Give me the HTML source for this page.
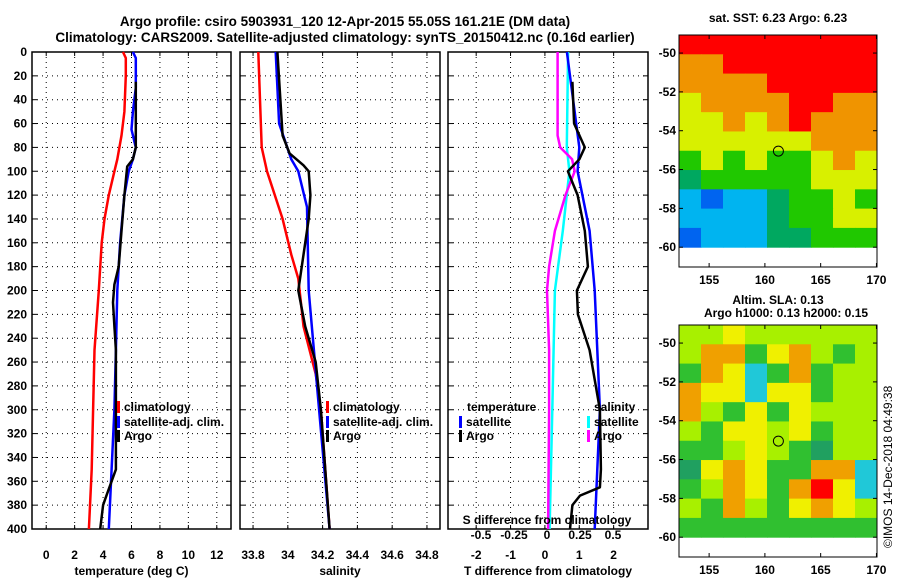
<!DOCTYPE html>
<html><head><meta charset="utf-8"><style>
body{margin:0;background:#fff;}
svg{display:block;font-family:"Liberation Sans",sans-serif;font-weight:bold;}
text{font-size:12px;fill:#000;}
</style></head><body>
<svg id="s" width="900" height="580">
<text x="345" y="26" text-anchor="middle" style="font-size:13.5px">Argo profile: csiro 5903931_120 12-Apr-2015 55.05S 161.21E (DM data)</text>
<text x="345" y="42" text-anchor="middle" style="font-size:13.5px">Climatology: CARS2009. Satellite-adjusted climatology: synTS_20150412.nc (0.16d earlier)</text>
</svg>
<script>
const depthTick=[0,20,40,60,80,100,120,140,160,180,200,220,240,260,280,300,320,340,360,380,400];
const tTicks=[0,2,4,6,8,10,12];
const sTicks=[33.8,34,34.2,34.4,34.6,34.8];
const dTicks=[-2,-1,0,1,2];
const sdTicks=[-0.5,-0.25,0,0.25,0.5];
const sdLabels=["-0.5","-0.25","0","0.25","0.5"];
// temperature
const tClimZ=[0,5,20,50,70,90,100,120,140,160,200,250,300,350,400];
const tClim=[5.4,5.6,5.6,5.5,5.3,5.0,4.8,4.4,4.1,3.9,3.7,3.4,3.3,3.2,3.0];
const tSatZ=[0,5,30,50,65,80,90,100,120,160,200,250,300,350,400];
const tSat=[6.1,6.3,6.3,6.1,6.0,6.3,6.1,5.8,5.5,5.2,5.0,4.9,4.8,4.6,4.4];
const tArgoZ=[25,80,90,96,120,150,180,195,210,230,250,290,350,370,380,400];
const tArgo=[6.3,6.3,6.1,5.7,5.5,5.3,5.1,4.8,4.7,4.8,4.9,4.9,4.9,4.3,4.0,3.8];
// salinity
const sClimZ=[0,80,100,140,170,190,230,270,300,400];
const sClim=[33.83,33.85,33.88,33.97,34.02,34.06,34.09,34.16,34.19,34.24];
const sSatZ=[0,60,90,100,130,200,250,300,400];
const sSat=[33.93,33.95,34.02,34.06,34.11,34.12,34.15,34.18,34.24];
const sArgoZ=[0,70,85,95,100,120,140,170,200,230,260,300,400];
const sArgo=[33.94,33.97,34.01,34.09,34.12,34.13,34.12,34.09,34.06,34.1,34.16,34.19,34.24];
// differences
const dtSatZ=[0,80,100,150,200,300,400];
const dtSat=[0.64,1.0,0.95,1.3,1.45,1.6,1.45];
const dtArgoZ=[25,60,80,90,100,120,150,180,200,220,250,300,350,365,372,380,400];
const dtArgo=[0.8,0.85,1.16,1.0,0.67,0.95,1.16,1.25,0.93,0.96,1.3,1.6,1.63,1.6,1.02,0.8,0.73];
const dsSatZ=[0,80,100,150,200,300,400];
const dsSat=[0.16,0.15,0.17,0.12,0.06,0.04,0.02];
const dsArgoZ=[0,70,80,90,100,120,150,180,200,250,300,400];
const dsArgo=[0.08,0.08,0.1,0.19,0.21,0.14,0.06,0.016,0.0,0.016,0.016,0.008];
// maps (rows lat -49..-60, cols lon ~152.3..170)
const sstGrid=["RRRRRRRRR","OORRRRRRR","OOOORRRRR","YOOOORROO","YYOYOROOO","YYYYYYOOO","GYGYGGYOY","TGGGGGYYY","CBCCTGGYG","CCCCTGGYY","BCCCTTGGG"];
const slaGrid=["LLYLLLLLL","LOOGYOLGL","GOYCGOGLL","OYYCYYGLL","OLGYGYLLL","LGYYLYGLL","GGLYLGTLL","TYOYGGOOC","GLOYGORYC","LGOLGYOYL","GGGGGGGGG"];
const sstCol={R:"#ff0000",O:"#f09400",Y:"#d8f000",G:"#20c800",T:"#00a860",C:"#00b4f0",B:"#0064f0"};
const slaCol={L:"#a8f000",G:"#30c030",Y:"#f0f000",O:"#f0a000",R:"#ff0000",C:"#20c8d8",T:"#20a060"};

const NS="http://www.w3.org/2000/svg";
const svg=document.getElementById('s');
function el(tag,attrs,parent){const e=document.createElementNS(NS,tag);for(const k in attrs)e.setAttribute(k,attrs[k]);(parent||svg).appendChild(e);return e;}
const Y0=52,Y1=529;
const yD=d=>Y0+(d/400)*(Y1-Y0);
function panel(name,x0,x1,xmin,xmax,ticks,labels,xlabel){
  const g=el('g',{});
  
  
  const xs=v=>x0+(v-xmin)/(xmax-xmin)*(x1-x0);
  ticks.forEach((t,i)=>{
    const X=xs(t);
    const l=el('line',{x1:X,x2:X,y1:Y0,y2:Y1,stroke:'#000','stroke-dasharray':'1,4','stroke-width':1},g);
    
    el('line',{x1:X,x2:X,y1:Y1,y2:Y1-4,stroke:'#000'},g);
    el('line',{x1:X,x2:X,y1:Y0,y2:Y0+4,stroke:'#000'},g);
    const tx=el('text',{x:X,y:559,'text-anchor':'middle'},g);tx.textContent=labels?labels[i]:t;
    
  });
  depthTick.forEach(d=>{
    const Y=yD(d);
    el('line',{x1:x0,x2:x1,y1:Y,y2:Y,stroke:'#000','stroke-dasharray':'1,4'},g);
    el('line',{x1:x0,x2:x0+5,y1:Y,y2:Y,stroke:'#000'},g);
    el('line',{x1:x1,x2:x1-5,y1:Y,y2:Y,stroke:'#000'},g);
  });
  el('rect',{x:x0,y:Y0,width:x1-x0,height:Y1-Y0,fill:'none',stroke:'#000','stroke-width':1.5},g);
  const xl=el('text',{x:(x0+x1)/2,y:575,'text-anchor':'middle'},g);xl.textContent=xlabel;
  
  return xs;
}
function series(name,xs,zs,vs,color,w){
  let p='';zs.forEach((z,i)=>{p+=(i?'L':'M')+xs(vs[i]).toFixed(1)+','+yD(z).toFixed(1);});
  const e=el('path',{d:p,fill:'none',stroke:color,'stroke-width':w||2.5,'stroke-linejoin':'round'});
  
}
function leg(name,x,y,color,label){
  const g=el('g',{});
  el('rect',{x:x,y:y-10,width:3,height:12,fill:color},g);
  const t=el('text',{x:x+7,y:y},g);t.textContent=label;
}
depthTick.forEach(d=>{const t=el('text',{x:27,y:yD(d)+4,'text-anchor':'end'});t.textContent=d;
 });

const xT=panel('temperature-panel',32,231,-1,13,tTicks,null,'temperature (deg C)');
series('temp-climatology',xT,tClimZ,tClim,'#ff0000');
series('temp-satellite-adj',xT,tSatZ,tSat,'#0000ff');
series('temp-argo',xT,tArgoZ,tArgo,'#000000');
leg('legend-climatology',117,411,'#ff0000','climatology');
leg('legend-satellite-adj',117,426,'#0000ff','satellite-adj. clim.');
leg('legend-argo',117,440,'#000000','Argo');

const xS=panel('salinity-panel',240,440,33.725,34.875,sTicks,["33.8","34","34.2","34.4","34.6","34.8"],'salinity');
series('sal-climatology',xS,sClimZ,sClim,'#ff0000');
series('sal-satellite-adj',xS,sSatZ,sSat,'#0000ff');
series('sal-argo',xS,sArgoZ,sArgo,'#000000');
leg('legend-sal-climatology',326,411,'#ff0000','climatology');
leg('legend-sal-satellite-adj',326,426,'#0000ff','satellite-adj. clim.');
leg('legend-sal-argo',326,440,'#000000','Argo');

const xD=panel('difference-panel',448,648,-2.82,3.0,dTicks,null,'T difference from climatology');
const xSD=v=>547+v*132;
series('sdiff-satellite',xSD,dsSatZ,dsSat,'#00ffff');
series('sdiff-argo',xSD,dsArgoZ,dsArgo,'#ff00ff');
series('tdiff-satellite',xD,dtSatZ,dtSat,'#0000ff');
series('tdiff-argo',xD,dtArgoZ,dtArgo,'#000000');
{const t=el('text',{x:467,y:411});t.textContent='temperature';}
{const t=el('text',{x:594,y:411});t.textContent='salinity';}
leg('legend-tdiff-satellite',459,426,'#0000ff','satellite');
leg('legend-tdiff-argo',459,440,'#000000','Argo');
leg('legend-sdiff-satellite',587,426,'#00ffff','satellite');
leg('legend-sdiff-argo',587,440,'#ff00ff','Argo');
{const t=el('text',{x:547,y:524,'text-anchor':'middle'});t.textContent='S difference from climatology';}
sdTicks.forEach((v,i)=>{const t=el('text',{x:xSD(v),y:539,'text-anchor':'middle'});t.textContent=sdLabels[i];
 });

function map(name,top,grid,cols,title1,title2){
  const L=679,R=877,B=top+232;
  const xl=lon=>L+(lon-152.3)/(170.05-152.3)*(R-L);
  const yl=lat=>top+(-49.07-lat)/(11.95)*(B-top);
  const g=el('g',{});
  const nc=grid[0].length,nr=grid.length;
  const cw=(R-L)/nc, y60=yl(-60), rh=(y60-top)/nr;
  grid.forEach((row,r)=>{for(let c=0;c<nc;c++){
    const cell=el('rect',{x:L+c*cw,y:top+r*rh,width:cw+0.5,height:rh+0.5,fill:cols[row[c]]},g);
    }});
  el('rect',{x:L,y:top,width:R-L,height:B-top,fill:'none',stroke:'#000','stroke-width':1},g);
  [155,160,165,170].forEach(lon=>{const X=xl(lon);
    el('line',{x1:X,x2:X,y1:top,y2:top+4,stroke:'#000'},g);el('line',{x1:X,x2:X,y1:B,y2:B-4,stroke:'#000'},g);
    const t=el('text',{x:X,y:B+17,'text-anchor':'middle'},g);t.textContent=lon;});
  [-50,-52,-54,-56,-58,-60].forEach(lat=>{const Y=yl(lat);
    el('line',{x1:L,x2:L+4,y1:Y,y2:Y,stroke:'#000'},g);el('line',{x1:R,x2:R-4,y1:Y,y2:Y,stroke:'#000'},g);
    const t=el('text',{x:L-3,y:Y+4,'text-anchor':'end'},g);t.textContent=lat;});
  const c=el('circle',{cx:xl(161.21),cy:yl(-55.05),r:5,fill:'none',stroke:'#000'},g);
  
  const t1=el('text',{x:778,y:top-(title2?21:13),'text-anchor':'middle'},g);t1.textContent=title1;
  if(title2){const t2=el('text',{x:786,y:top-8,'text-anchor':'middle'},g);t2.textContent=title2;}
}
map('sst-map',35,sstGrid,sstCol,'sat. SST: 6.23 Argo: 6.23');
map('sla-map',325,slaGrid,slaCol,'Altim. SLA: 0.13','Argo h1000: 0.13 h2000: 0.15');
{const t=el('text',{x:0,y:0,transform:'translate(892,548) rotate(-90)'});t.textContent='©IMOS 14-Dec-2018 04:49:38';
 t.setAttribute('font-weight','normal');}
</script>
</body></html>
